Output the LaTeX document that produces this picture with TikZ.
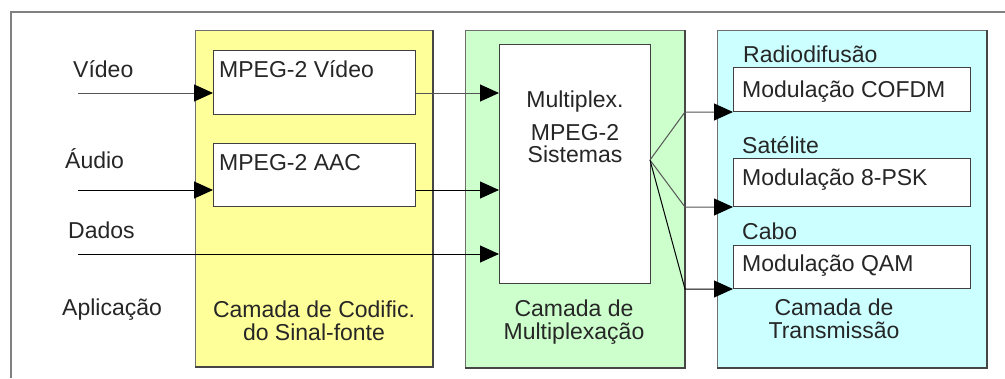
\documentclass[tikz,border=0pt]{standalone}
\usepackage{fontspec}
\setmainfont{Liberation Sans}
\usetikzlibrary{arrows.meta}
\definecolor{panelY}{RGB}{255,255,153}
\definecolor{panelG}{RGB}{204,255,204}
\definecolor{panelC}{RGB}{204,255,255}
\definecolor{edge}{RGB}{110,110,110}
\definecolor{edgedark}{RGB}{70,70,70}
\definecolor{framecol}{RGB}{128,128,128}
\definecolor{lgray}{RGB}{85,85,85}
\begin{document}
\begin{tikzpicture}[x=1pt,y=-1pt,
  every node/.style={font=\fontsize{23}{23}\selectfont, text=black!85},
  panel/.style={draw=edge, line width=1pt, anchor=north west, inner sep=0pt},
  box/.style={draw=black!75, fill=white, line width=1pt, anchor=north west, inner sep=0pt},
  lbl/.style={anchor=base west, inner sep=0pt},
  clbl/.style={anchor=base, inner sep=0pt},
  arr/.style={-{Triangle[length=19pt,width=17pt,color=black]}, line width=1pt},
  shade/.style={line width=1.5pt, edgedark}]
\useasboundingbox (0,0) rectangle (1005,378);
\fill[white] (0,0) rectangle (1005,378);
% outer frame (cut off at right and bottom)
\draw[framecol, line width=2pt] (11,378) -- (11,12) -- (1005,12);
% layer panels
\node[panel, fill=panelY, minimum width=237pt, minimum height=336pt] (ylayer) at (195,30) {};
\node[panel, fill=panelG, minimum width=219pt, minimum height=337pt] (glayer) at (465,30) {};
\node[panel, fill=panelC, minimum width=269pt, minimum height=337pt] (clayer) at (717,30) {};
\foreach \p in {ylayer,glayer,clayer}
  \draw[shade] (\p.north east) -- (\p.south east) -- (\p.south west);
% white boxes
\node[box, minimum width=202pt, minimum height=64pt] (vbox) at (213,50) {};
\node[box, minimum width=202pt, minimum height=63pt] (abox) at (213,143) {};
\node[box, minimum width=151pt, minimum height=239pt] (mux) at (499,44) {};
\node[box, minimum width=237pt, minimum height=44pt] (cofdm) at (733,67) {};
\node[box, minimum width=237pt, minimum height=48pt] (psk) at (733,158) {};
\node[box, minimum width=237pt, minimum height=43pt] (qam) at (733,245) {};
% texts
\node[lbl] (tvid) at (73,77) {Vídeo};
\node[lbl] (taud) at (65,168) {Áudio};
\node[lbl] (tdad) at (68,238) {Dados};
\node[lbl] (tapl) at (62,315) {Aplicação};
\node[lbl] (tvbox) at (219,77) {MPEG-2 Vídeo};
\node[lbl] (tabox) at (219,170) {MPEG-2 AAC};
\node[clbl] (ty1) at (314,317) {Camada de Codific.};
\node[clbl] (ty2) at (314,340) {do Sinal-fonte};
\node[clbl] (tm1) at (575,107) {Multiplex.};
\node[clbl] (tm2) at (575,140) {MPEG-2};
\node[clbl] (tm3) at (575,162) {Sistemas};
\node[clbl] (tg1) at (574,316) {Camada de};
\node[clbl] (tg2) at (574,339) {Multiplexação};
\node[lbl] (tr) at (743,62) {Radiodifusão};
\node[lbl] (tmc) at (742,97) {Modulação COFDM};
\node[lbl] (ts) at (742,153) {Satélite};
\node[lbl] (tm8) at (742,185) {Modulação 8-PSK};
\node[lbl] (tc) at (742,239) {Cabo};
\node[lbl] (tmq) at (742,271) {Modulação QAM};
\node[clbl] (tc1) at (834,315) {Camada de};
\node[clbl] (tc2) at (834,338) {Transmissão};
% input connectors
\coordinate (vin) at (78,93);
\coordinate (ain) at (78,190);
\coordinate (din) at (78,254);
\draw[arr, lgray] (vin) -- (vin -| vbox.west);
\draw[arr] (ain) -- (ain -| abox.west);
\draw[arr] (din) -- (din -| mux.west);
\draw[arr, lgray] (vbox.east |- vin) -- (vin -| mux.west);
\draw[arr] (abox.east |- ain) -- (ain -| mux.west);
% fan-out to modulators
\coordinate (fan) at (650,160);
\coordinate (k1) at (glayer.east |- cofdm.south west);
\coordinate (k2) at (glayer.east |- psk.south west);
\coordinate (k3) at (glayer.east |- qam.south west);
\draw[arr, lgray] (fan) -- (k1) -- (cofdm.south west);
\draw[arr, lgray] (fan) -- (k2) -- (psk.south west);
\draw[arr] (fan) -- (k3) -- (qam.south west);
\end{tikzpicture}
\end{document}
